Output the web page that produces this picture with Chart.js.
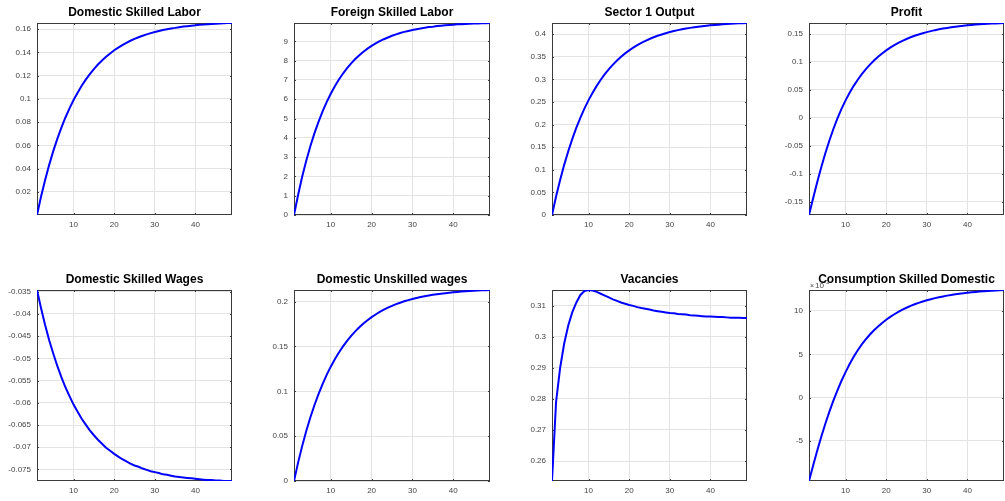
<!DOCTYPE html>
<html>
<head>
<meta charset="utf-8">
<script src="https://cdn.jsdelivr.net/npm/chart.js@4/dist/chart.umd.min.js"></script>
<style>
  html, body { margin: 0; padding: 0; background: #fff; }
  #figura { position: relative; width: 1005px; height: 501px; overflow: hidden; background: #fff; }
  #figura canvas { position: absolute; }
</style>
</head>
<body>
<div id="figura"></div>
<script>
// ============================================================================
// IRF - 8 pannelli stile MATLAB
// ============================================================================

// --- 1. DATI ---
const periodi = [1, 2, 3, 4, 5, 6, 7, 8, 9, 10, 11, 12, 13, 14, 15, 16, 17, 18, 19, 20,
  21, 22, 23, 24, 25, 26, 27, 28, 29, 30, 31, 32, 33, 34, 35, 36, 37, 38, 39, 40,
  41, 42, 43, 44, 45, 46, 47, 48, 49];
const xTicks = [10, 20, 30, 40];

const domesticSkilledLabor = [0, 0.0159, 0.0302, 0.0432, 0.0550, 0.0656, 0.0753, 0.0840, 0.0919, 0.0990,
  0.1054, 0.1113, 0.1166, 0.1214, 0.1257, 0.1296, 0.1331, 0.1363, 0.1392, 0.1419,
  0.1442, 0.1464, 0.1483, 0.1501, 0.1517, 0.1531, 0.1544, 0.1556, 0.1567, 0.1576,
  0.1585, 0.1593, 0.1600, 0.1607, 0.1612, 0.1618, 0.1623, 0.1627, 0.1631, 0.1634,
  0.1638, 0.1640, 0.1643, 0.1645, 0.1648, 0.1650, 0.1651, 0.1653, 0.1654];
const yTicksDSL = [0.02, 0.04, 0.06, 0.08, 0.1, 0.12, 0.14, 0.16];

const foreignSkilledLabor = [0, 1.04, 1.98, 2.81, 3.56, 4.23, 4.83, 5.37, 5.85, 6.28,
  6.67, 7.02, 7.33, 7.61, 7.86, 8.08, 8.28, 8.46, 8.62, 8.76,
  8.89, 9.01, 9.11, 9.20, 9.29, 9.36, 9.43, 9.49, 9.54, 9.59,
  9.63, 9.67, 9.70, 9.74, 9.76, 9.79, 9.81, 9.83, 9.85, 9.86,
  9.88, 9.89, 9.90, 9.91, 9.92, 9.93, 9.94, 9.94, 9.95];
const yTicksFSL = [0, 1, 2, 3, 4, 5, 6, 7, 8, 9];

const sector1Output = [0, 0.0408, 0.0776, 0.1109, 0.1411, 0.1684, 0.1931, 0.2155, 0.2357, 0.2540,
  0.2705, 0.2855, 0.2991, 0.3114, 0.3225, 0.3325, 0.3416, 0.3498, 0.3573, 0.3640,
  0.3701, 0.3756, 0.3806, 0.3851, 0.3892, 0.3929, 0.3962, 0.3992, 0.4020, 0.4045,
  0.4067, 0.4087, 0.4105, 0.4122, 0.4137, 0.4151, 0.4163, 0.4174, 0.4184, 0.4194,
  0.4202, 0.4209, 0.4216, 0.4222, 0.4227, 0.4233, 0.4237, 0.4241, 0.4245];
const yTicksS1O = [0, 0.05, 0.1, 0.15, 0.2, 0.25, 0.3, 0.35, 0.4];

const profit = [-0.1740, -0.1445, -0.1160, -0.0890, -0.0640, -0.0410, -0.0200, -0.0010, 0.0160, 0.0312,
  0.0450, 0.0572, 0.0681, 0.0781, 0.0871, 0.0952, 0.1025, 0.1092, 0.1152, 0.1207,
  0.1256, 0.1301, 0.1341, 0.1378, 0.1411, 0.1441, 0.1468, 0.1492, 0.1514, 0.1534,
  0.1552, 0.1569, 0.1584, 0.1597, 0.1609, 0.1620, 0.1631, 0.1639, 0.1647, 0.1655,
  0.1662, 0.1668, 0.1673, 0.1678, 0.1683, 0.1687, 0.1690, 0.1694, 0.1697];
const yTicksProfit = [-0.15, -0.1, -0.05, 0, 0.05, 0.1, 0.15];

const domesticSkilledWages = [-0.0346, -0.0387, -0.0425, -0.0459, -0.0489, -0.0517, -0.0542, -0.0565, -0.0585, -0.0604,
  -0.0620, -0.0636, -0.0649, -0.0662, -0.0673, -0.0683, -0.0692, -0.0701, -0.0708, -0.0715,
  -0.0721, -0.0727, -0.0732, -0.0737, -0.0741, -0.0744, -0.0748, -0.0751, -0.0754, -0.0756,
  -0.0758, -0.0761, -0.0762, -0.0764, -0.0766, -0.0767, -0.0768, -0.0769, -0.0770, -0.0771,
  -0.0772, -0.0773, -0.0774, -0.0774, -0.0775, -0.0775, -0.0776, -0.0776, -0.0776];
const yTicksDSW = [-0.075, -0.07, -0.065, -0.06, -0.055, -0.05, -0.045, -0.04, -0.035];

const domesticUnskilledWages = [0, 0.0205, 0.0389, 0.0557, 0.0708, 0.0845, 0.0969, 0.1081, 0.1183, 0.1275,
  0.1358, 0.1433, 0.1501, 0.1563, 0.1618, 0.1669, 0.1714, 0.1756, 0.1793, 0.1827,
  0.1857, 0.1885, 0.1910, 0.1933, 0.1953, 0.1972, 0.1988, 0.2004, 0.2017, 0.2030,
  0.2041, 0.2051, 0.2060, 0.2069, 0.2076, 0.2083, 0.2089, 0.2095, 0.2100, 0.2105,
  0.2109, 0.2112, 0.2116, 0.2119, 0.2122, 0.2124, 0.2126, 0.2128, 0.2130];
const yTicksDUW = [0, 0.05, 0.1, 0.15, 0.2];

const vacancies = [0.2536, 0.2790, 0.2900, 0.2978, 0.3036, 0.3079, 0.3110, 0.3134, 0.3147, 0.3150,
  0.3148, 0.3144, 0.3138, 0.3132, 0.3126, 0.3120, 0.3115, 0.3110, 0.3106, 0.3102,
  0.3099, 0.3095, 0.3092, 0.3090, 0.3087, 0.3084, 0.3082, 0.3080, 0.3078, 0.3076,
  0.3075, 0.3073, 0.3072, 0.3071, 0.3069, 0.3068, 0.3067, 0.3066, 0.3065, 0.3065,
  0.3064, 0.3063, 0.3063, 0.3062, 0.3061, 0.3061, 0.3061, 0.3060, 0.3060];
const yTicksVac = [0.26, 0.27, 0.28, 0.29, 0.3, 0.31];

// valori in unita' di 10^-3
const consumptionSkilledDomestic = [-9.62, -7.85, -6.15, -4.55, -3.05, -1.65, -0.35, 0.85, 1.95, 2.95,
  3.88, 4.72, 5.47, 6.14, 6.74, 7.28, 7.77, 8.21, 8.61, 8.98,
  9.32, 9.62, 9.90, 10.15, 10.37, 10.58, 10.77, 10.94, 11.09, 11.23,
  11.36, 11.48, 11.59, 11.68, 11.77, 11.85, 11.92, 11.99, 12.05, 12.10,
  12.15, 12.20, 12.24, 12.28, 12.31, 12.34, 12.37, 12.39, 12.42];
const yTicksCSD = [-5, 0, 5, 10];

const pannelli = [
  { titolo: 'Domestic Skilled Labor', valori: domesticSkilledLabor, yTicks: yTicksDSL },
  { titolo: 'Foreign Skilled Labor', valori: foreignSkilledLabor, yTicks: yTicksFSL },
  { titolo: 'Sector 1 Output', valori: sector1Output, yTicks: yTicksS1O },
  { titolo: 'Profit', valori: profit, yTicks: yTicksProfit },
  { titolo: 'Domestic Skilled Wages', valori: domesticSkilledWages, yTicks: yTicksDSW },
  { titolo: 'Domestic Unskilled wages', valori: domesticUnskilledWages, yTicks: yTicksDUW },
  { titolo: 'Vacancies', valori: vacancies, yTicks: yTicksVac },
  { titolo: 'Consumption Skilled Domestic', valori: consumptionSkilledDomestic, yTicks: yTicksCSD, esponente: '-3' }
];

// --- 2. LAYOUT (area assi in px) ---
const colSx = [37, 294, 552, 809];
const colLarg = [195, 196, 195, 195];
const rigaSu = [23, 290];
const rigaAlt = [192, 191];
const margine = { sx: 37, dx: 3, su: 16, giu: 20 };

const FONT = "'Liberation Sans', Arial, Helvetica, sans-serif";
const COL_TESTO = '#444';
const COL_BOX = '#3a3a3a';

// --- 3. PLUGIN: riquadro e tacche come MATLAB ---
const boxMatlab = {
  id: 'boxMatlab',
  beforeDraw(chart, args, opts) {
    // etichetta esponente (x10^n) sopra l'asse y
    if (!opts.esponente) return;
    const { ctx, chartArea: a } = chart;
    ctx.save();
    ctx.fillStyle = COL_TESTO;
    ctx.textBaseline = 'alphabetic';
    ctx.font = '7px ' + FONT;
    ctx.fillText('\u00d7', a.left + 1, a.top - 2);
    ctx.font = '8px ' + FONT;
    ctx.fillText('10', a.left + 6, a.top - 2);
    ctx.font = '6px ' + FONT;
    ctx.fillText(opts.esponente, a.left + 15, a.top - 6);
    ctx.restore();
  },
  beforeDatasetsDraw(chart) {
    const { ctx, chartArea: a, scales } = chart;
    ctx.save();
    ctx.strokeStyle = COL_BOX;
    ctx.lineWidth = 1;
    ctx.beginPath();
    const t = 2;
    scales.x.ticks.forEach(tk => {
      const px = Math.round(scales.x.getPixelForValue(tk.value)) + 0.5;
      ctx.moveTo(px, a.bottom); ctx.lineTo(px, a.bottom - t);
      ctx.moveTo(px, a.top); ctx.lineTo(px, a.top + t);
    });
    scales.y.ticks.forEach(tk => {
      const py = Math.round(scales.y.getPixelForValue(tk.value)) + 0.5;
      ctx.moveTo(a.left, py); ctx.lineTo(a.left + t, py);
      ctx.moveTo(a.right, py); ctx.lineTo(a.right - t, py);
    });
    ctx.stroke();
    ctx.strokeRect(a.left + 0.5, a.top + 0.5, a.right - a.left - 1, a.bottom - a.top - 1);
    ctx.restore();
  }
};

// --- 4. CREAZIONE GRAFICI ---
const figura = document.getElementById('figura');

pannelli.forEach((p, i) => {
  const col = i % 4;
  const riga = Math.floor(i / 4);
  const w = colLarg[col] + margine.sx + margine.dx;
  const h = rigaAlt[riga] + margine.su + margine.giu;

  const canvas = document.createElement('canvas');
  canvas.width = w;
  canvas.height = h;
  canvas.style.width = w + 'px';
  canvas.style.height = h + 'px';
  canvas.style.left = (colSx[col] - margine.sx) + 'px';
  canvas.style.top = (rigaSu[riga] - margine.su) + 'px';
  figura.appendChild(canvas);

  new Chart(canvas.getContext('2d'), {
    type: 'line',
    data: {
      datasets: [{
        data: p.valori.map((v, k) => ({ x: periodi[k], y: v })),
        borderColor: '#0000ff',
        borderWidth: 2,
        pointRadius: 0,
        tension: 0,
        fill: false
      }]
    },
    plugins: [boxMatlab],
    options: {
      responsive: false,
      animation: false,
      devicePixelRatio: 1,
      layout: { padding: { left: 0, right: margine.dx, top: 0, bottom: 0 } },
      plugins: {
        legend: { display: false },
        tooltip: { enabled: false },
        boxMatlab: { esponente: p.esponente },
        title: {
          display: true,
          text: p.titolo,
          fullSize: false,
          color: '#000',
          font: { family: FONT, size: 12, weight: 'bold', lineHeight: 1 },
          padding: { top: 0, bottom: 4 }
        }
      },
      scales: {
        x: {
          type: 'linear',
          min: periodi[0],
          max: periodi[periodi.length - 1],
          afterBuildTicks: s => { s.ticks = xTicks.map(v => ({ value: v })); },
          afterFit: s => { s.height = margine.giu; },
          grid: { color: '#e3e3e3', drawTicks: false },
          border: { display: false },
          ticks: { color: COL_TESTO, font: { family: FONT, size: 8 }, padding: 5, maxRotation: 0, callback: v => String(v) }
        },
        y: {
          type: 'linear',
          min: Math.min(...p.valori),
          max: Math.max(...p.valori),
          afterBuildTicks: s => { s.ticks = p.yTicks.map(v => ({ value: v })); },
          afterFit: s => { s.width = margine.sx; },
          grid: { color: '#e3e3e3', drawTicks: false },
          border: { display: false },
          ticks: { color: COL_TESTO, font: { family: FONT, size: 8 }, padding: 6, callback: v => String(v) }
        }
      }
    }
  });
});
</script>
</body>
</html>
